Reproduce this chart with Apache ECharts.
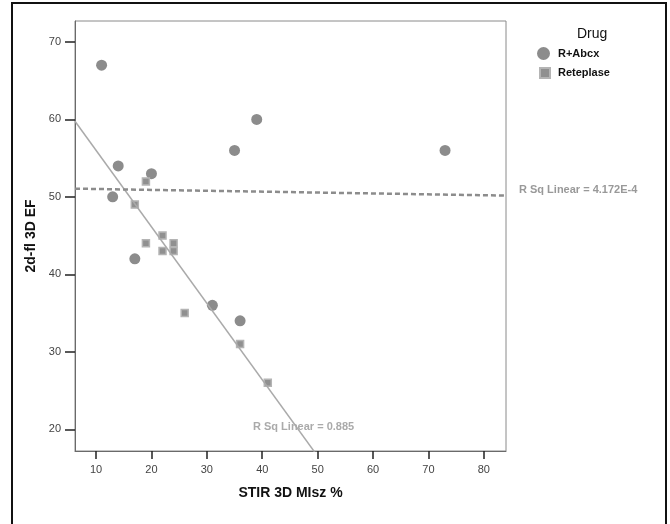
<!DOCTYPE html>
<html>
<head>
<meta charset="utf-8">
<script src="https://cdn.jsdelivr.net/npm/echarts@6/dist/echarts.min.js"></script>
<style>
  html, body { margin: 0; padding: 0; background: #fff; }
  #chart { width: 670px; height: 524px; }
</style>
</head>
<body>
<div id="chart"></div>
<script>
// R+Abcx group
const abcxX = [11, 14, 13, 20, 17, 35, 39, 73, 31, 36];
const abcxY = [67, 54, 50, 53, 42, 56, 60, 56, 36, 34];
// Reteplase group
const reteX = [19, 17, 22, 19, 24, 22, 24, 26, 36, 41];
const reteY = [52, 49, 45, 44, 44, 43, 43, 35, 31, 26];

const xTicks = [10, 20, 30, 40, 50, 60, 70, 80];
const yTicks = [20, 30, 40, 50, 60, 70];
const xMin = 6.2, xMax = 84;
const yMin = 17.2, yMax = 72.7;

// least squares fit + R squared
function fit(xs, ys) {
  const n = xs.length;
  const mx = xs.reduce((a, b) => a + b, 0) / n;
  const my = ys.reduce((a, b) => a + b, 0) / n;
  let sxy = 0, sxx = 0, syy = 0;
  for (let i = 0; i < n; i++) {
    sxy += (xs[i] - mx) * (ys[i] - my);
    sxx += (xs[i] - mx) * (xs[i] - mx);
    syy += (ys[i] - my) * (ys[i] - my);
  }
  const slope = sxy / sxx;
  return { slope: slope, icpt: my - slope * mx, r2: sxy * sxy / (sxx * syy) };
}
function fmtR2(v) {
  if (v < 0.001) return v.toExponential(3).toUpperCase();
  return v.toFixed(3);
}
function fitLine(f) {
  return [[xMin, f.icpt + f.slope * xMin], [xMax, f.icpt + f.slope * xMax]];
}

const fitAbcx = fit(abcxX, abcxY);
const fitRete = fit(reteX, reteY);

const zip = (xs, ys) => xs.map((x, i) => [x, ys[i]]);

const chart = echarts.init(document.getElementById('chart'));
const font = 'Liberation Sans, Arial, sans-serif';
const legendText = { fontFamily: font, fontSize: 11, fontWeight: 'bold', color: '#111', padding: [0, 0, 0, 3] };

chart.setOption({
  animation: false,
  backgroundColor: '#fff',
  textStyle: { fontFamily: font },
  grid: {
    left: 75, top: 21, right: 164, bottom: 73,
    show: true, borderColor: '#8a8a8a', borderWidth: 1
  },
  legend: [
    {
      left: 532, top: 42,
      itemWidth: 13, itemHeight: 13,
      textStyle: legendText,
      data: [{ name: 'R+Abcx', icon: 'circle' }]
    },
    {
      left: 534, top: 62,
      itemWidth: 10, itemHeight: 10,
      textStyle: legendText,
      data: [{ name: 'Reteplase', icon: 'rect' }]
    }
  ],
  xAxis: {
    type: 'value', min: xMin, max: xMax,
    name: 'STIR 3D MIsz %', nameLocation: 'middle', nameGap: 35,
    nameTextStyle: { fontFamily: font, fontSize: 14, fontWeight: 'bold', color: '#111' },
    splitLine: { show: false },
    axisLine: { lineStyle: { color: '#6a6a6a' } },
    axisTick: { customValues: xTicks, length: 8, lineStyle: { color: '#222', width: 1.5 } },
    axisLabel: { customValues: xTicks, margin: 13, fontSize: 11, color: '#444' }
  },
  yAxis: {
    type: 'value', min: yMin, max: yMax,
    name: '2d-fl 3D EF', nameLocation: 'middle', nameGap: 33,
    nameTextStyle: { fontFamily: font, fontSize: 14, fontWeight: 'bold', color: '#111' },
    splitLine: { show: false },
    axisLine: { show: true, lineStyle: { color: '#6a6a6a' } },
    axisTick: { show: true, customValues: yTicks, length: 10, lineStyle: { color: '#222', width: 1.5 } },
    axisLabel: { customValues: yTicks, margin: 14, fontSize: 11, color: '#444' }
  },
  series: [
    {
      name: 'fitRete', type: 'line', data: fitLine(fitRete),
      symbol: 'none', silent: true, clip: true,
      lineStyle: { color: '#aaaaaa', width: 1.5 }
    },
    {
      name: 'fitAbcx', type: 'line', data: fitLine(fitAbcx),
      symbol: 'none', silent: true, clip: true,
      lineStyle: { color: '#8c8c8c', width: 2.5, type: [5, 3] }
    },
    {
      name: 'R+Abcx', type: 'scatter', data: zip(abcxX, abcxY),
      symbol: 'circle', symbolSize: 11,
      itemStyle: { color: '#8c8c8c', opacity: 1 }
    },
    {
      name: 'Reteplase', type: 'scatter', data: zip(reteX, reteY),
      symbol: 'rect', symbolSize: 7,
      itemStyle: { color: '#909090', borderColor: '#b4b4b4', borderWidth: 1.5, opacity: 1 }
    }
  ],
  graphic: [
    {
      type: 'rect', silent: true,
      shape: { x: 12, y: 3, width: 654, height: 540 },
      style: { fill: 'none', stroke: '#111', lineWidth: 2 }
    },
    {
      type: 'text', left: 577, top: 27,
      style: { text: 'Drug', font: '14px ' + font, fill: '#111' }
    },
    {
      type: 'text', left: 253, top: 421,
      style: { text: 'R Sq Linear = ' + fmtR2(fitRete.r2), font: 'bold 11px ' + font, fill: '#aaaaaa' }
    },
    {
      type: 'text', left: 519, top: 184,
      style: { text: 'R Sq Linear = ' + fmtR2(fitAbcx.r2), font: 'bold 11px ' + font, fill: '#999999' }
    }
  ]
});
</script>
</body>
</html>
